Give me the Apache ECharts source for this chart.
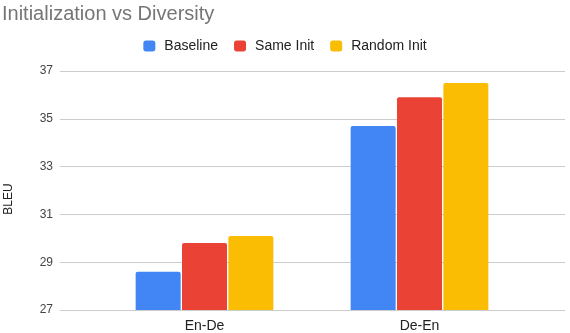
<!DOCTYPE html>
<html>
<head>
<meta charset="utf-8">
<script src="https://cdn.jsdelivr.net/npm/echarts@6/dist/echarts.min.js"></script>
<style>html,body{margin:0;padding:0;background:#fff}#c{width:570px;height:333px}</style>
</head>
<body>
<div id="c"></div>
<script>
const categories = ['En-De', 'De-En'];
const baseline = [28.6, 34.7];
const sameInit = [29.8, 35.9];
const randomInit = [30.1, 36.5];
const seriesNames = ['Baseline', 'Same Init', 'Random Init'];
const yTicks = [27, 29, 31, 33, 35, 37];

const FONT = 'Arial, "Liberation Sans", sans-serif';
const colors = ['#4285F4', '#EA4335', '#FBBC04'];
const chart = echarts.init(document.getElementById('c'), null, {renderer: 'canvas'});
const barSeries = [baseline, sameInit, randomInit].map((d, i) => ({
  name: seriesNames[i],
  type: 'bar',
  xAxisIndex: 1,
  yAxisIndex: 1,
  data: d,
  barWidth: 45,
  barGap: '3%',
  itemStyle: {color: colors[i], borderRadius: [2, 2, 0, 0]}
}));
chart.setOption({
  animation: false,
  color: colors,
  textStyle: {fontFamily: FONT},
  title: {
    text: 'Initialization vs Diversity',
    left: 2, top: 4, padding: 0,
    textStyle: {color: '#757575', fontSize: 20, fontWeight: 'normal', fontFamily: FONT}
  },
  legend: {
    top: 34, left: 'center',
    icon: 'roundRect', itemWidth: 12, itemHeight: 11, itemGap: 16,
    textStyle: {fontSize: 14, color: '#222', fontFamily: FONT, padding: [0, 0, 0, 4]},
    data: seriesNames
  },
  grid: [
    {left: 60, right: 5, top: 71, bottom: 23},
    {left: 97, right: 43, top: 71, bottom: 23}
  ],
  xAxis: [
    {type: 'value', gridIndex: 0, show: false, min: 0, max: 1},
    {type: 'category', gridIndex: 1, data: categories,
     axisLine: {show: false}, axisTick: {show: false},
     axisLabel: {fontSize: 14, color: '#222', margin: 9, fontFamily: FONT}}
  ],
  yAxis: [
    {type: 'value', gridIndex: 0, min: yTicks[0], max: yTicks[yTicks.length - 1], interval: 2,
     axisLine: {show: false}, axisTick: {show: false},
     axisLabel: {fontSize: 12, color: '#444', margin: 7, fontFamily: FONT},
     splitLine: {lineStyle: {color: '#cccccc', width: 1}}},
    {type: 'value', gridIndex: 1, min: yTicks[0], max: yTicks[yTicks.length - 1], interval: 2, show: false,
     splitLine: {show: false}}
  ],
  graphic: [{
    type: 'text', x: 9, y: 199, rotation: Math.PI / 2,
    style: {text: 'BLEU', fontSize: 12, fill: '#222', fontFamily: FONT, align: 'center', verticalAlign: 'middle'}
  }],
  series: barSeries
});
</script>
</body>
</html>
